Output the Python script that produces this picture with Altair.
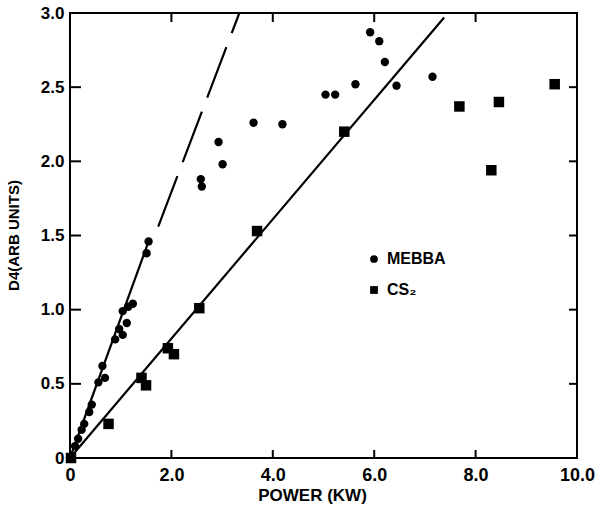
import altair as alt
import pandas as pd

# ---- data ----
mebba_x = [0.03, 0.10, 0.16, 0.23, 0.28, 0.38, 0.43, 0.56, 0.69, 0.64, 0.89, 1.04, 0.97, 1.12,
           1.04, 1.15, 1.24, 1.51, 1.55, 2.58, 2.60, 2.93, 3.01, 3.62, 4.19, 5.04, 5.23,
           5.63, 5.92, 6.10, 6.21, 6.44, 7.15]
mebba_y = [0.01, 0.08, 0.13, 0.19, 0.23, 0.31, 0.36, 0.51, 0.54, 0.62, 0.80, 0.83, 0.87, 0.91,
           0.99, 1.02, 1.04, 1.38, 1.46, 1.88, 1.83, 2.13, 1.98, 2.26, 2.25, 2.45, 2.45,
           2.52, 2.87, 2.81, 2.67, 2.51, 2.57]
cs2_x = [0.02, 0.76, 1.41, 1.50, 1.93, 2.05, 2.55, 3.69, 5.41, 7.68, 8.31, 8.46, 9.56]
cs2_y = [0.00, 0.23, 0.54, 0.49, 0.74, 0.70, 1.01, 1.53, 2.20, 2.37, 1.94, 2.40, 2.52]

mebba_fit_x = [0.0, 1.55]
mebba_fit_y = [0.0, 1.46]
mebba_ext_x = [1.74, 3.34]
mebba_ext_y = [1.56, 3.00]
cs2_fit_x = [0.0, 7.38]
cs2_fit_y = [0.0, 2.97]

x_ticks = [2, 4, 6, 8]
y_ticks = [0.5, 1.0, 1.5, 2.0, 2.5]
x_labels = [0, 2, 4, 6, 8, 10]
y_labels = [0, 0.5, 1.0, 1.5, 2.0, 2.5, 3.0]

series_names = ["MEBBA", "CS\u2082"]

FONT = "Liberation Sans"
W, H = 507, 445

pts = pd.DataFrame({
    "x": mebba_x + cs2_x,
    "y": mebba_y + cs2_y,
    "series": [series_names[0]] * len(mebba_x) + [series_names[1]] * len(cs2_x),
})
fit1 = pd.DataFrame({"x": mebba_fit_x, "y": mebba_fit_y})
fit2 = pd.DataFrame({"x": mebba_ext_x, "y": mebba_ext_y})
fit3 = pd.DataFrame({"x": cs2_fit_x, "y": cs2_fit_y})
xt = pd.DataFrame({"v": x_ticks})
yt = pd.DataFrame({"v": y_ticks})

xs = alt.Scale(domain=[0, 10], nice=False, zero=False)
ys = alt.Scale(domain=[0, 3], nice=False, zero=False)

lab = "datum.value == 0 ? '0' : format(datum.value, '.1f')"

xaxis = alt.Axis(values=x_labels, labelExpr=lab, grid=False, domain=False, ticks=False,
                 labelFont=FONT, labelFontSize=18, labelFontWeight="bold", labelColor="black",
                 labelPadding=8, labelFlush=False, labelOverlap=False,
                 title="POWER (KW)", titleFont=FONT, titleFontSize=17, titleFontWeight="bold",
                 titleColor="black", titleX=242, titleY=37, titleBaseline="middle")
yaxis = alt.Axis(values=y_labels, labelExpr=lab, grid=False, domain=False, ticks=False,
                 labelFont=FONT, labelFontSize=17, labelFontWeight="bold", labelColor="black",
                 labelPadding=6, labelFlush=False, labelOverlap=False,
                 title="D4(ARB UNITS)", titleFont=FONT, titleFontSize=15, titleFontWeight="bold",
                 titleColor="black", titleX=-57, titleY=222, titleAngle=270, titleBaseline="middle")

points = alt.Chart(pts).mark_point(filled=True, opacity=1, color="black").encode(
    x=alt.X("x:Q", scale=xs, axis=xaxis),
    y=alt.Y("y:Q", scale=ys, axis=yaxis),
    shape=alt.Shape("series:N", scale=alt.Scale(domain=series_names, range=["circle", "square"]),
                    legend=alt.Legend(title=None, orient="none", legendX=296, legendY=238,
                                      labelFont=FONT, labelFontSize=16, labelFontWeight="bold",
                                      labelColor="black", symbolFillColor="black",
                                      symbolStrokeColor="black", symbolSize=60, rowPadding=15,
                                      labelOffset=5, padding=0)),
    size=alt.condition(alt.datum.series == series_names[0], alt.value(70), alt.value(110)),
)

l1 = alt.Chart(fit1).mark_line(color="black", strokeWidth=2.2).encode(
    x=alt.X("x:Q", scale=xs), y=alt.Y("y:Q", scale=ys))
l2 = alt.Chart(fit2).mark_line(color="black", strokeWidth=2.2, strokeDash=[54, 15]).encode(
    x=alt.X("x:Q", scale=xs), y=alt.Y("y:Q", scale=ys))
l3 = alt.Chart(fit3).mark_line(color="black", strokeWidth=2.2).encode(
    x=alt.X("x:Q", scale=xs), y=alt.Y("y:Q", scale=ys))

tb = alt.Chart(xt).mark_rule(color="black", strokeWidth=2).encode(
    x=alt.X("v:Q", scale=xs), y=alt.value(H), y2=alt.value(H - 8))
tt = alt.Chart(xt).mark_rule(color="black", strokeWidth=2).encode(
    x=alt.X("v:Q", scale=xs), y=alt.value(0), y2=alt.value(9))
tl = alt.Chart(yt).mark_rule(color="black", strokeWidth=2).encode(
    y=alt.Y("v:Q", scale=ys), x=alt.value(0), x2=alt.value(11))
tr = alt.Chart(yt).mark_rule(color="black", strokeWidth=2).encode(
    y=alt.Y("v:Q", scale=ys), x=alt.value(W), x2=alt.value(W - 8))

chart = alt.layer(l1, l2, l3, tb, tt, tl, tr, points).properties(
    width=W, height=H,
    autosize=alt.AutoSizeParams(type="none"),
    padding={"left": 70, "top": 13, "right": 18, "bottom": 63},
    background="white",
).configure_view(stroke="black", strokeWidth=2)

chart.save("out.html", embed_options={"renderer": "svg", "actions": False})
